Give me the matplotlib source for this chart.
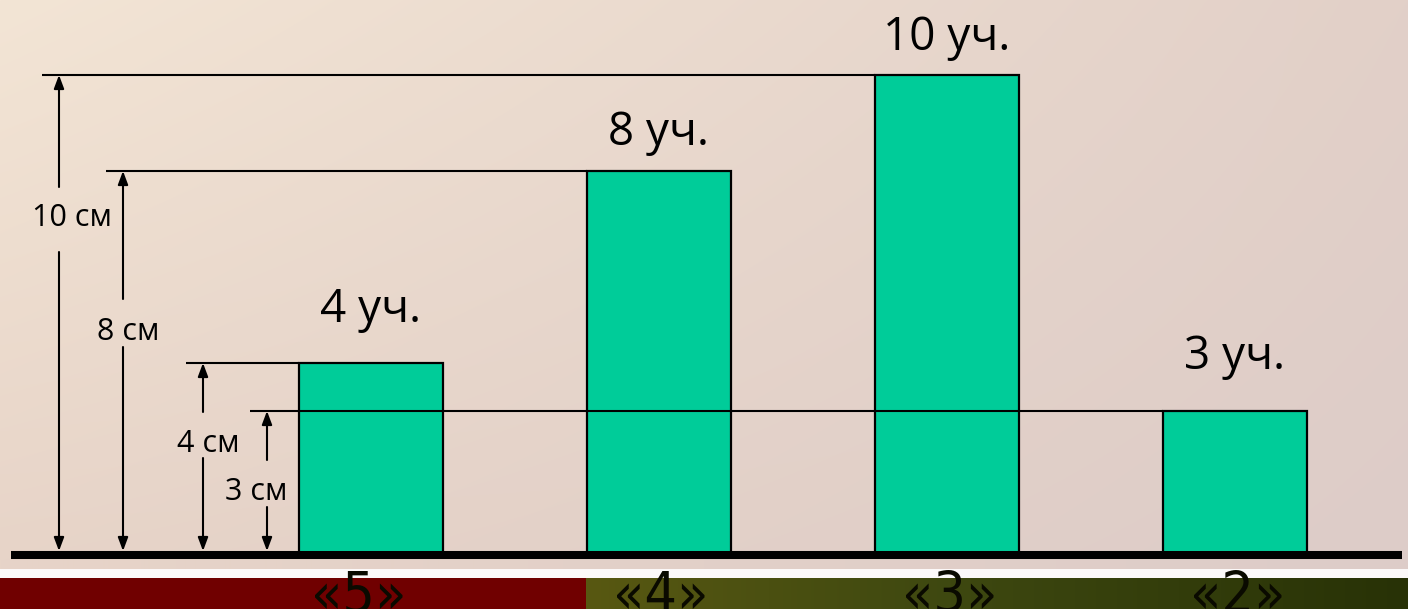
import numpy as np
import matplotlib
matplotlib.use('Agg')
import matplotlib.pyplot as plt
from matplotlib import font_manager as fm

# ---------------- data ----------------
categories = ['«5»', '«4»', '«3»', '«2»']
students = [4, 8, 10, 3]
bar_labels = ['4 уч.', '8 уч.', '10 уч.', '3 уч.']
ref_values = [10, 8, 4, 3]
ref_labels = ['10 см', '8 см', '4 см', '3 см']

# ---------------- layout helpers (pixel geometry of the picture) ----------------
W, H = 1408, 609
X0, DX = 371.0, 288.0      # pixel of first category centre, pixels per category
Y0, DY = 555.0, 48.0       # pixel of value 0, pixels per unit


def px_x(p):
    return (p - X0) / DX


def px_y(p):
    return (Y0 - p) / DY


def find_narrow():
    # look for a condensed / narrow font file among the installed fonts
    prefs = ['LiberationSansNarrow-Regular', 'LiberationSansNarrow', 'DejaVuSansCondensed.ttf',
             'RobotoCondensed', 'OpenSans_Condensed', 'OpenSansCondensed', 'NotoSans-Condensed',
             'NotoSansDisplay-Condensed']
    files = fm.findSystemFonts()
    for p in prefs:
        for f in files:
            if p.lower() in f.lower().replace(' ', ''):
                try:
                    fm.fontManager.addfont(f)
                    return fm.FontProperties(fname=f).get_name(), f
                except Exception:
                    pass
    return None, None


narrow_name, narrow_file = find_narrow()
main_font = ['Open Sans', 'DejaVu Sans']

fig = plt.figure(figsize=(W / 100, H / 100), dpi=100)

# ---------------- background ----------------
yy, xx = np.mgrid[0:H, 0:W].astype(float)
fx = xx / (W - 1)
fy = np.clip(yy / 560.0, 0, 1)
tl = np.array([243, 229, 213.])
tr = np.array([226, 208, 200.])
bl = np.array([231, 212, 200.])
br = np.array([221, 204, 200.])
img = ((1 - fx)[..., None] * (1 - fy)[..., None] * tl + fx[..., None] * (1 - fy)[..., None] * tr
       + (1 - fx)[..., None] * fy[..., None] * bl + fx[..., None] * fy[..., None] * br)
img[569:578, :, :] = np.array([252, 249, 249.])
band = np.zeros((W, 3))
xs = np.arange(W)
band[xs < 586] = [112, 0, 0]
right = xs >= 586
for c, (a, b, d) in enumerate([(88, 62, 40), (88, 72, 50), (18, 16, 6)]):
    band[right, c] = np.interp(xs[right], [586, 950, 1407], [a, b, d])
img[578:, :, :] = band[None, :, :]
bg_ax = fig.add_axes([0, 0, 1, 1], zorder=0)
bg_ax.imshow(img.astype(np.uint8), extent=[0, W, H, 0], aspect='auto', interpolation='bilinear')
bg_ax.axis('off')

# ---------------- main axes ----------------
ax = fig.add_axes([0, 0, 1, 1], zorder=1)
ax.patch.set_alpha(0)
ax.set_xlim(px_x(0), px_x(W))
ax.set_ylim(px_y(H), px_y(0))
ax.axis('off')

pos = np.arange(len(categories))
ax.bar(pos, students, width=0.5, color='#00CC99', edgecolor='black', linewidth=1.6, zorder=2)

# baseline
ax.plot([px_x(11), px_x(1402)], [0, 0], color='black', lw=5.8, solid_capstyle='butt', zorder=4)

# reference lines from the scale to the matching bar
ref_start_px = [42, 106, 186, 250]
for val, sp in zip(ref_values, ref_start_px):
    idx = students.index(val)
    ax.plot([px_x(sp), idx - 0.25], [val, val], color='black', lw=1.5, zorder=3,
            solid_capstyle='butt')

# dimension arrows with labels
arrow_x_px = [59, 123, 203, 267]
gaps_px = [(187, 252), (299, 347), (412, 458), (460, 507)]
label_pos_px = [(72, 226), (128, 340), (208, 452), (256, 500)]
astyle = dict(arrowstyle='-|>,head_length=0.8,head_width=0.3', lw=1.5, color='black',
              shrinkA=0, shrinkB=0)
for val, lab, axp, (g0, g1), (lx, ly) in zip(ref_values, ref_labels, arrow_x_px, gaps_px, label_pos_px):
    x = px_x(axp)
    ax.annotate('', xy=(x, val), xytext=(x, px_y(g0)), arrowprops=astyle, zorder=3)
    ax.annotate('', xy=(x, px_y(551)), xytext=(x, px_y(g1)), arrowprops=astyle, zorder=3)
    ax.text(px_x(lx), px_y(ly), lab, ha='center', va='baseline', fontsize=22,
            family=main_font, color='black', zorder=5)

# value labels above bars
label_offsets_px = [41, 26, 25, 42]
for i, (v, lab) in enumerate(zip(students, bar_labels)):
    ax.annotate(lab, xy=(i, v), xytext=(0, label_offsets_px[i] * 0.72), textcoords='offset points',
                ha='center', va='baseline', fontsize=33, family=main_font, color='black', zorder=5)

# category labels in the bottom band
if narrow_file is not None:
    cat_kw = dict(fontproperties=fm.FontProperties(fname=narrow_file, size=41))
    cat_base_px = 613
else:
    cat_kw = dict(family=['DejaVu Sans'], fontsize=33)
    cat_base_px = 608
cat_offsets_px = [-12, 2, 3, 3]
for i, lab in enumerate(categories):
    ax.text(i + cat_offsets_px[i] / DX, px_y(cat_base_px), lab, ha='center', va='baseline',
            color='#0a0a00', zorder=5, **cat_kw)

fig.savefig('out.png', dpi=100)
